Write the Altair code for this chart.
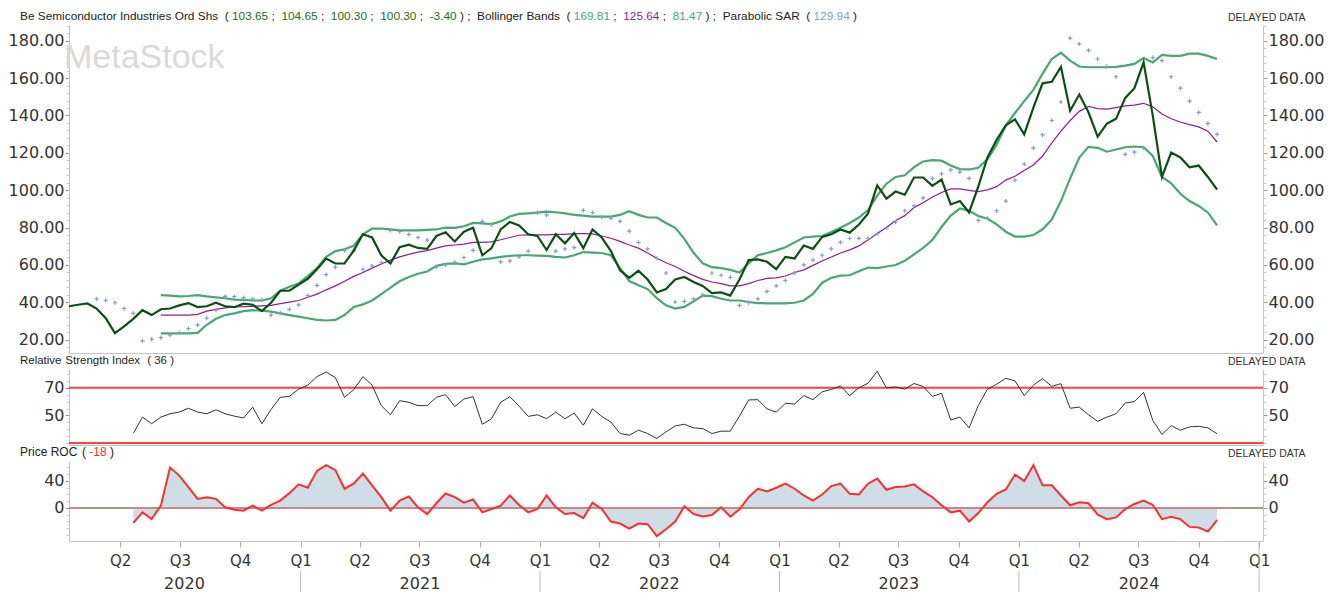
import altair as alt
import pandas as pd

# ---------------- data (biweekly samples) ----------------
price = [37.9, 38.7, 39.4, 36.7, 31.5, 23.5, 27.2, 31.2, 35.8, 33.2,
         36.3, 36.7, 38.4, 39.6, 37.5, 37.9, 39.8, 37.9, 37.4, 39.3,
         38.7, 35.3, 39.8, 46.2, 46.2, 49.5, 52.6, 57.7, 63.4, 60.8,
         60.8, 67.7, 76.4, 74.7, 65.2, 60.8, 69.5, 70.9, 69.1, 68.6,
         75.5, 77.5, 72.6, 77.8, 79.9, 65.2, 69.0, 79.0, 83.0, 81.1,
         76.4, 75.5, 68.0, 76.4, 71.6, 77.1, 69.0, 79.0, 74.7, 67.4,
         57.1, 53.1, 56.9, 52.2, 45.3, 47.1, 52.2, 53.6, 50.9, 48.8,
         45.0, 45.3, 43.6, 52.2, 62.6, 63.0, 61.7, 57.8, 64.3, 63.5,
         70.4, 68.6, 75.0, 76.4, 79.0, 77.3, 81.6, 87.6, 102.6, 95.5,
         99.3, 97.6, 106.8, 106.8, 102.3, 105.7, 92.4, 94.2, 88.1, 101.9,
         117.5, 127.0, 134.7, 137.9, 129.9, 144.2, 157.2, 158.0, 166.0, 142.5,
         151.2, 141.7, 128.7, 135.6, 138.2, 149.4, 154.6, 168.4, 139.9, 107.1,
         120.1, 117.5, 112.3, 113.2, 107.1, 100.3]

bb_upper = [None] * 10 + [
    43.9, 43.6, 43.2, 43.4, 43.9, 43.2, 42.7, 42.2, 41.5, 41.3,
    41.0, 41.0, 42.2, 46.2, 48.4, 50.1, 54.0, 58.3, 64.3, 67.4,
    68.4, 70.3, 76.4, 79.5, 79.5, 79.0, 78.5, 78.5, 78.5, 78.8,
    79.0, 80.0, 79.9, 80.7, 82.5, 82.3, 81.9, 83.3, 85.9, 87.3,
    87.6, 88.0, 88.5, 88.2, 87.6, 86.8, 86.4, 85.9, 85.9, 85.9,
    86.8, 88.8, 86.8, 85.4, 85.4, 82.5, 79.9, 74.0, 66.5, 60.9,
    58.8, 58.3, 57.4, 56.0, 60.9, 65.2, 66.4, 67.8, 69.5, 72.1,
    74.7, 75.2, 75.5, 77.6, 79.9, 82.5, 85.4, 89.4, 97.1, 103.5,
    107.1, 108.0, 112.3, 115.4, 116.1, 115.8, 113.2, 111.3, 111.1, 112.0,
    116.6, 124.4, 134.7, 141.3, 147.7, 153.7, 162.4, 170.2, 173.6, 169.3,
    166.2, 165.8, 165.8, 165.8, 166.0, 166.7, 167.6, 170.7, 168.4, 172.4,
    171.9, 171.9, 173.1, 173.1, 171.9, 170.2]

bb_middle = [None] * 10 + [
    33.2, 33.2, 33.2, 33.2, 33.6, 35.3, 36.2, 37.0, 37.5, 37.7,
    37.9, 38.1, 38.4, 39.3, 40.1, 41.0, 42.7, 44.4, 46.7, 48.8,
    51.3, 53.9, 56.0, 58.3, 60.5, 62.6, 64.3, 65.7, 66.9, 67.7,
    69.0, 70.2, 70.7, 71.2, 72.1, 72.1, 72.4, 73.5, 74.7, 75.9,
    76.1, 76.1, 76.1, 76.4, 76.4, 76.8, 76.8, 76.6, 75.5, 74.3,
    72.6, 70.7, 69.0, 66.4, 63.6, 61.2, 59.2, 56.6, 54.3, 52.3,
    50.9, 50.0, 48.8, 48.8, 50.0, 51.7, 52.8, 53.1, 54.1, 56.0,
    57.4, 59.8, 62.1, 64.3, 66.4, 68.1, 70.2, 73.3, 76.8, 80.0,
    83.8, 86.4, 90.7, 93.3, 96.4, 98.8, 100.7, 100.7, 99.9, 99.3,
    100.2, 101.9, 105.4, 107.5, 110.6, 113.5, 118.3, 125.3, 131.6, 137.3,
    142.2, 144.8, 143.7, 143.4, 144.2, 145.1, 145.5, 146.5, 144.6, 140.8,
    138.2, 136.5, 135.1, 133.9, 131.6, 125.8]

bb_lower = [None] * 10 + [
    23.4, 23.4, 23.4, 23.4, 23.7, 28.0, 31.2, 33.2, 34.1, 35.3,
    35.8, 35.6, 35.0, 34.1, 33.2, 32.4, 31.5, 30.6, 30.3, 30.6,
    33.2, 37.5, 38.9, 41.0, 44.4, 47.9, 51.3, 53.6, 55.3, 56.5,
    59.5, 60.6, 60.9, 60.3, 61.7, 63.0, 63.5, 64.3, 64.9, 65.2,
    65.2, 65.0, 64.9, 64.3, 64.0, 65.2, 66.9, 66.6, 66.4, 65.2,
    58.3, 51.4, 49.1, 47.1, 42.2, 38.4, 36.7, 37.6, 40.5, 43.6,
    43.3, 41.9, 41.0, 41.0, 40.2, 39.6, 39.5, 39.5, 39.5, 39.8,
    41.0, 44.5, 50.5, 53.1, 54.3, 54.5, 56.6, 58.6, 58.3, 59.2,
    60.0, 62.2, 65.7, 69.1, 73.4, 80.3, 86.4, 90.2, 89.0, 86.2,
    84.7, 81.7, 77.8, 75.2, 75.2, 76.0, 79.1, 84.3, 94.2, 106.3,
    117.5, 123.2, 122.7, 120.6, 121.8, 123.0, 123.4, 123.0, 118.3, 107.1,
    103.7, 98.1, 94.2, 91.6, 88.1, 81.2]

sar = [None] * 3 + [41.9, 41.0, 39.8, 36.7, 34.1, 19.4, 20.3] + [
    21.1, 22.5, 23.7, 26.0, 28.0, 31.5, 35.8, 43.2, 43.1, 42.5,
    41.9, 41.5, 33.2, 34.4, 36.2, 38.7, 43.6, 49.1, 54.8, 58.8,
    67.7, 67.7, 57.7, 59.5, 61.2, 78.5, 77.8, 76.4, 74.7, 73.3,
    58.8, 60.0, 61.4, 64.0, 67.8, 83.3, 81.6, 61.7, 62.2, 64.3,
    67.4, 88.0, 86.8, 67.4, 68.6, 69.3, 89.2, 88.0, 85.6, 85.1,
    83.3, 78.1, 72.1, 68.6, 63.5, 55.7, 40.2, 40.5, 41.9, 44.0,
    55.7, 54.5, 53.3, 38.4, 39.8, 41.9, 45.7, 48.8, 51.7, 55.7,
    60.0, 62.6, 65.2, 68.6, 72.1, 74.3, 74.2, 74.3, 76.8, 79.9,
    82.9, 89.0, 91.6, 95.9, 106.3, 108.8, 110.9, 109.7, 106.3, 83.8,
    85.0, 89.0, 94.2, 105.4, 114.0, 122.7, 129.6, 137.3, 147.2, 181.4,
    178.3, 174.8, 170.2, 166.2, 160.7, 119.2, 120.4, 122.7, 171.0, 169.3,
    160.7, 154.6, 147.7, 141.7, 135.6, 129.9]

rsi = [None] * 7 + [37.0, 48.8, 44.0] + [
    48.8, 51.2, 52.4, 55.2, 52.4, 51.2, 54.0, 51.2, 49.5, 48.1,
    56.0, 44.0, 54.3, 63.1, 63.8, 69.0, 71.9, 78.1, 81.4, 77.4,
    63.1, 68.6, 78.1, 71.9, 57.1, 50.5, 60.7, 59.5, 57.1, 57.1,
    63.1, 65.0, 56.4, 61.9, 63.6, 43.6, 47.6, 59.5, 63.6, 56.7,
    49.3, 50.5, 47.6, 52.4, 47.6, 51.7, 42.9, 54.8, 49.3, 45.2,
    36.9, 35.7, 39.3, 36.9, 33.3, 38.1, 42.4, 43.6, 41.0, 40.5,
    36.9, 38.6, 38.6, 49.5, 61.2, 61.4, 54.8, 52.4, 58.8, 58.3,
    64.3, 61.4, 67.1, 68.8, 71.4, 64.3, 70.0, 73.3, 81.9, 70.0,
    70.7, 69.0, 73.1, 71.0, 63.8, 66.0, 46.7, 48.8, 41.0, 57.1,
    69.0, 72.6, 76.9, 75.0, 64.3, 71.9, 76.7, 71.0, 73.0, 55.2,
    56.0, 50.5, 45.7, 48.8, 51.2, 59.0, 60.0, 66.7, 46.4, 36.2,
    42.6, 39.3, 41.7, 42.1, 41.0, 36.7]

roc = [None] * 7 + [-22, -6.5, -16.5] + [
    3.5, 60, 48, 31, 13.5, 16, 13.5, 1, -2.5, -4,
    3.5, -4, 4.5, 11, 22, 35, 30, 55, 63.5, 56,
    28.5, 36, 51, 33.5, 16, -4, 11, 17, 1, -9,
    7, 21.5, 16, 8, 12.5, -6.5, -1.5, 3.5, 18.5, 4.5,
    -6.5, -1.5, 18.5, 1, -9, -7.5, -15, 8, -1.5, -20,
    -23, -30.5, -23, -24, -41.5, -31.5, -20, 2.5, -9, -12.5,
    -10.5, 1, -13, -2, 16, 28.5, 24.5, 30, 36, 28.5,
    18.5, 11, 20, 32.5, 36, 21, 20, 36, 43.5, 27,
    31, 32, 35, 24.5, 16, 4, -6.5, -4, -20, -7.5,
    8.5, 21, 27.5, 49.5, 40, 63.5, 33.5, 33.5, 18.5, 4,
    8.5, 7, -10, -16.5, -14, -1.5, 6, 11, 4.5, -16.5,
    -13, -16.5, -28, -29, -35, -18]

rsi_levels = [30, 70]
roc_zero = [0]
year_labels = ["2020", "2021", "2022", "2023", "2024"]
year_label_dates = ["2020-07-08", "2021-07-02", "2022-07-02", "2023-07-02", "2024-07-02"]
year_starts = ["2021-01-01", "2022-01-01", "2023-01-01", "2024-01-01"]
last_year_start = ["2025-01-01"]
quarter_starts = [(2020, 4), (2020, 7), (2020, 10), (2021, 1), (2021, 4), (2021, 7), (2021, 10),
                  (2022, 1), (2022, 4), (2022, 7), (2022, 10), (2023, 1), (2023, 4), (2023, 7),
                  (2023, 10), (2024, 1), (2024, 4), (2024, 7), (2024, 10), (2025, 1)]

N = len(price)
dates = pd.date_range("2020-01-14", periods=N, freq="14D").strftime("%Y-%m-%d")
df = pd.DataFrame({"date": dates, "price": price, "upper": bb_upper, "middle": bb_middle,
                   "lower": bb_lower, "sar": sar, "rsi": rsi, "roc": roc})

# ---------------- styling ----------------
W = 1194
H1, H2, H3 = 328, 76, 80
AXF = "DejaVu Sans"
TXF = "Liberation Sans"
PLOT_LEFT = 69  # header text is placed relative to the plot's left edge

K = "#222222"
C_PRICE = "#0b4f12"
C_BB = "#47a872"
C_MID = "#8e1f8e"
C_SAR = "#7f9fcf"
C_HDR_GREEN = "#1f6b1f"
C_RED = "#ff2d2d"

xscale = alt.Scale(type="utc",
                   domain=[alt.DateTime(year=2020, month=1, date=14, utc=True),
                           alt.DateTime(year=2025, month=1, date=7, utc=True)])
x_plain_axis = alt.Axis(labels=False, ticks=False, title=None, grid=False, domainColor="#c4c4c4")
x_bottom_axis = alt.Axis(
    values=[alt.DateTime(year=y, month=m, date=1, utc=True) for y, m in quarter_starts],
    labelExpr="'Q' + utcquarter(datum.value)", title=None, grid=False,
    tickSize=6, tickColor="#aaaaaa", domainColor="#c4c4c4",
    labelFont=AXF, labelFontSize=15, labelColor="#333333", labelPadding=6,
    labelFlush=False, labelOverlap=False)


def yaxis(orient, values, test, label_expr):
    return alt.Axis(orient=orient, values=values, title=None, grid=False,
                    labelExpr=f"({test}) ? {label_expr} : ''",
                    tickSize={"condition": {"test": test, "value": 4}, "value": 3},
                    tickColor={"condition": {"test": test, "value": "#999999"}, "value": "#cccccc"},
                    domainColor="#c4c4c4", labelFont=AXF, labelFontSize=16,
                    labelColor="#333333", labelPadding=1, labelFlush=False, labelOverlap=False)


price_ticks = list(range(16, 189, 4))
price_test = "datum.value % 20 === 0"
price_lbl = "format(datum.value, '.2f')"
rsi_ticks = list(range(30, 84, 5))
rsi_test = "datum.value === 50 || datum.value === 70"
roc_ticks = list(range(-40, 70, 10))
roc_test = "datum.value === 0 || datum.value === 40"

p_scale = alt.Scale(domain=[12.9, 188.4], nice=False, zero=False)
r_scale = alt.Scale(domain=[28.6, 83.6], nice=False, zero=False)
c_scale = alt.Scale(domain=[-48.9, 69.6], nice=False, zero=False)

one = pd.DataFrame({"k": [0]})


def txt(s, x, y, color=K, size=12, font=TXF, align="left"):
    return alt.Chart(one).mark_text(text=s, align=align, baseline="alphabetic", font=font,
                                    fontSize=size, color=color).encode(
        x=alt.value(x - PLOT_LEFT), y=alt.value(y))


# Arial / Liberation Sans advance widths (1/1000 em) used to lay out the multi-coloured header
ARIAL = {" ": 278, "(": 333, ")": 333, ";": 278, ".": 278, "-": 333, "B": 667, "e": 556,
         "S": 667, "m": 833, "i": 222, "c": 500, "o": 556, "n": 556, "d": 556, "u": 556,
         "t": 278, "r": 333, "I": 278, "s": 500, "O": 778, "h": 556, "l": 222, "g": 556,
         "a": 556, "P": 667, "A": 667, "R": 722, "b": 556}


def em(s):
    return sum(ARIAL.get(ch, 556) for ch in s) / 1000.0


def header_layers(pieces, x0, x1, y):
    full = "".join(p for p, _ in pieces)
    fs = (x1 - x0) / em(full)
    layers, pos = [], 0.0
    for piece, color in pieces:
        i = 0
        while i < len(piece):
            if piece[i] == " ":
                pos += em(" ")
                i += 1
                continue
            j = i
            while j < len(piece) and piece[j] != " ":
                j += 1
            tok = piece[i:j]
            layers.append(txt(tok, x0 + pos * fs, y, color=color, size=fs))
            pos += em(tok)
            i = j
    return layers


base = alt.Chart(df)

# ---------------- price panel ----------------
xe = alt.X("date:T", scale=xscale, axis=x_plain_axis)
watermark = txt("MetaStock", 64, 43, color="#d9d9d9", size=34)
upper_l = base.mark_line(color=C_BB, strokeWidth=2.2).encode(
    x=xe, y=alt.Y("upper:Q", scale=p_scale, axis=yaxis("left", price_ticks, price_test, price_lbl)))
lower_l = base.mark_line(color=C_BB, strokeWidth=2.2).encode(
    x=xe, y=alt.Y("lower:Q", scale=p_scale, axis=yaxis("right", price_ticks, price_test, price_lbl)))
mid_l = base.mark_line(color=C_MID, strokeWidth=1.2).encode(
    x=xe, y=alt.Y("middle:Q", scale=p_scale, axis=None))
sar_p = base.mark_point(shape="M-1,0L1,0M0,-1L0,1", size=18, filled=False, strokeWidth=1.2,
                        color=C_SAR, opacity=1).encode(
    x=xe, y=alt.Y("sar:Q", scale=p_scale, axis=None))
price_l = base.mark_line(color=C_PRICE, strokeWidth=2.2).encode(
    x=xe, y=alt.Y("price:Q", scale=p_scale, axis=None))

header_pieces = [
    ("Be Semiconductor Industries Ord Shs  ( ", K),
    ("103.65", C_HDR_GREEN), (" ;  ", K), ("104.65", C_HDR_GREEN), (" ;  ", K),
    ("100.30", C_HDR_GREEN), (" ;  ", K), ("100.30", C_HDR_GREEN), (" ;  ", K),
    ("-3.40", C_HDR_GREEN),
    (" ) ;  Bollinger Bands  ( ", K),
    ("169.81", C_BB), (" ;  ", K), ("125.64", C_MID), (" ;  ", K), ("81.47", C_BB),
    (" ) ;  Parabolic SAR  ( ", K),
    ("129.94", C_SAR), (" )", K),
]
hdr = header_layers(header_pieces, 20, 857, -5)
delayed1 = txt("DELAYED DATA", 1228, -4, color="#333333", size=10.5)

p1 = alt.layer(watermark, upper_l, lower_l, mid_l, sar_p, price_l, *hdr, delayed1).resolve_scale(
    y="independent").properties(width=W, height=H1)

# ---------------- RSI panel ----------------
lv = alt.Chart(pd.DataFrame({"lvl": rsi_levels}))
rsi_rule = lv.mark_rule(color=C_RED, strokeWidth=2, opacity=0.9).encode(
    y=alt.Y("lvl:Q", scale=r_scale, axis=yaxis("right", rsi_ticks, rsi_test, "datum.label")))
rsi_l = base.mark_line(color="#333333", strokeWidth=1).encode(
    x=xe, y=alt.Y("rsi:Q", scale=r_scale, axis=yaxis("left", rsi_ticks, rsi_test, "datum.label")))
p2 = alt.layer(rsi_rule, rsi_l,
               *header_layers([("Relative Strength Index  ( 36 )", K)], 20, 174, -5),
               txt("DELAYED DATA", 1228, -4, color="#333333", size=10.5)).resolve_scale(
    y="independent").properties(width=W, height=H2)

# ---------------- ROC panel ----------------
xb = alt.X("date:T", scale=xscale, axis=x_bottom_axis)
roc_area = base.mark_area(color="#cfdde6", opacity=1).encode(
    x=xb, y=alt.Y("roc:Q", scale=c_scale, axis=yaxis("left", roc_ticks, roc_test, "datum.label")),
    y2=alt.datum(0))
zero_rule = alt.Chart(pd.DataFrame({"z": roc_zero})).mark_rule(color="#c48a8a", strokeWidth=2).encode(
    y=alt.Y("z:Q", scale=c_scale, axis=yaxis("right", roc_ticks, roc_test, "datum.label")))
roc_l = base.mark_line(color=C_RED, strokeWidth=2).encode(
    x=xb, y=alt.Y("roc:Q", scale=c_scale, axis=None))
yrs = alt.Chart(pd.DataFrame({"ydate": year_label_dates, "ylabel": year_labels})).mark_text(
    font=AXF, fontSize=16, color="#333333", baseline="alphabetic", align="center").encode(
    x=alt.X("ydate:T", scale=xscale, axis=x_bottom_axis), y=alt.value(128), text="ylabel:N")
seps = alt.Chart(pd.DataFrame({"sdate": year_starts})).mark_rule(color="#bbbbbb", strokeWidth=1).encode(
    x=alt.X("sdate:T", scale=xscale, axis=x_bottom_axis), y=alt.value(110), y2=alt.value(131))
sep_end = alt.Chart(pd.DataFrame({"sdate": last_year_start})).mark_rule(color="#bbbbbb", strokeWidth=1).encode(
    x=alt.X("sdate:T", scale=xscale, axis=x_bottom_axis), y=alt.value(80), y2=alt.value(131))
roc_title = header_layers([("Price ROC  ( ", K), ("-18", C_RED), (" )", K)], 20, 114, -5)
p3 = alt.layer(roc_area, zero_rule, roc_l, yrs, seps, sep_end, *roc_title,
               txt("DELAYED DATA", 1228, -4, color="#333333", size=10.5)).resolve_scale(
    y="independent").properties(width=W, height=H3)

chart = alt.vconcat(p1, p2, p3, spacing=16, bounds="flush").resolve_scale(x="independent").properties(
    padding={"left": 0, "top": 3, "right": 0, "bottom": 0}, background="white"
).configure_view(stroke=None)

chart.save("out.html", embed_options={"renderer": "svg", "actions": False})
